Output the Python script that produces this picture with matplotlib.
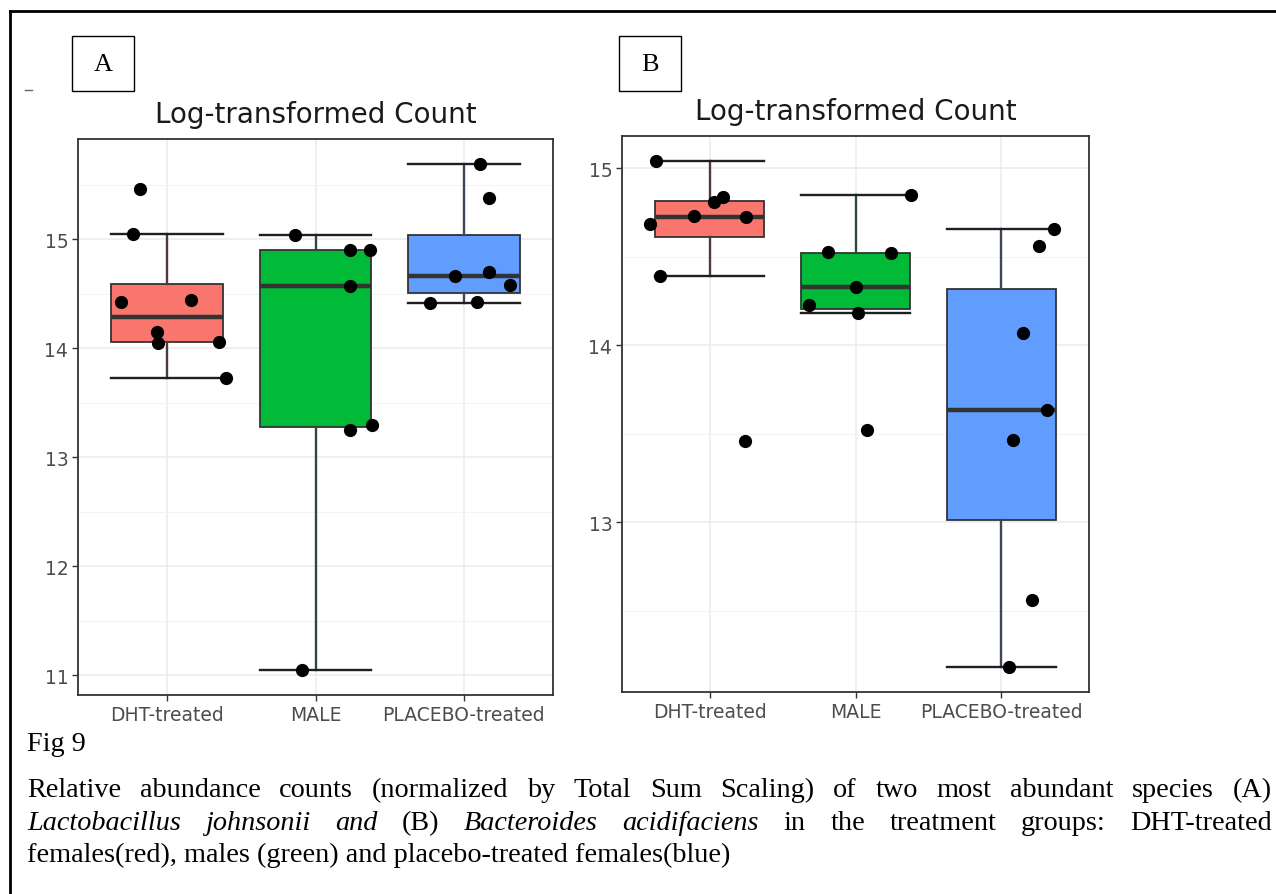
import matplotlib
matplotlib.use('Agg')
import matplotlib.pyplot as plt
import numpy as np
from matplotlib.ticker import MultipleLocator, FormatStrFormatter
from matplotlib.patches import Rectangle
from matplotlib.lines import Line2D

W, H = 1276, 895

groups = ['DHT-treated', 'MALE', 'PLACEBO-treated']
fills = ['#F8766D', '#00BA38', '#619CFF']
whisk_cols = ['#4d3a3a', '#2f4a36', '#3d4658']

# (A) Lactobacillus johnsonii, log counts per animal
dht_a = [15.46, 15.05, 14.43, 14.44, 14.15, 14.05, 14.06, 13.73]
male_a = [15.04, 14.90, 14.90, 14.57, 13.25, 13.30, 11.05]
plac_a = [15.69, 15.38, 14.66, 14.70, 14.58, 14.42, 14.43]
# horizontal jitter of each point (category units)
dht_a_jit = [-0.18, -0.23, -0.31, 0.16, -0.07, -0.06, 0.35, 0.40]
male_a_jit = [-0.14, 0.23, 0.37, 0.23, 0.23, 0.38, -0.09]
plac_a_jit = [0.11, 0.17, -0.06, 0.17, 0.31, -0.23, 0.085]

# (B) Bacteroides acidifaciens
dht_b = [15.04, 14.84, 14.81, 14.73, 14.725, 14.686, 14.39, 13.46]
male_b = [14.847, 14.526, 14.52, 14.33, 14.23, 14.18, 13.52]
plac_b = [14.657, 14.563, 14.07, 13.634, 13.467, 12.56, 12.184]
dht_b_jit = [-0.365, 0.09, 0.03, -0.11, 0.25, -0.41, -0.34, 0.24]
male_b_jit = [0.38, -0.19, 0.24, 0.0, -0.32, 0.02, 0.08]
plac_b_jit = [0.36, 0.26, 0.15, 0.31, 0.08, 0.21, 0.05]

title = 'Log-transformed Count'
cap_font = 'Liberation Serif'


def draw_panel(ax, values, jitter):
	pos = np.arange(1, len(values) + 1)
	bp = ax.boxplot(values, positions=pos, widths=0.75, capwidths=0.75,
		patch_artist=True, showfliers=False, whis=1.5,
		medianprops=dict(color='#333333', lw=3.2, solid_capstyle='butt'),
		boxprops=dict(edgecolor='#333333', lw=1.3),
		capprops=dict(color='#1f1f1f', lw=1.7), zorder=3)
	for i in range(len(values)):
		bp['boxes'][i].set_facecolor(fills[i])
		for wk in bp['whiskers'][2*i:2*i+2]:
			wk.set_color(whisk_cols[i])
			wk.set_linewidth(1.7)
	for i in range(len(values)):
		ax.plot(pos[i] + np.array(jitter[i]), values[i], 'o', color='black',
			ms=8.5, ls='none', zorder=5)

	allv = np.concatenate(values)
	lo, hi = allv.min(), allv.max()
	pad = 0.05 * (hi - lo)
	ax.set_ylim(lo - pad, hi + pad)
	ax.set_xlim(0.4, len(values) + 0.6)
	ax.set_xticks(pos)
	ax.set_xticklabels(groups)
	ax.yaxis.set_major_locator(MultipleLocator(1))
	ax.yaxis.set_minor_locator(MultipleLocator(0.5))
	ax.yaxis.set_major_formatter(FormatStrFormatter('%d'))
	ax.set_axisbelow(True)
	ax.grid(which='major', color='#EBEBEB', lw=1.1)
	ax.grid(which='minor', axis='y', color='#F3F3F3', lw=0.7)
	ax.tick_params(which='major', length=4, width=1, color='#333333',
		labelcolor='#4D4D4D', labelsize=13.5, pad=3)
	ax.tick_params(which='minor', length=0)
	for s in ax.spines.values():
		s.set_color('#333333')
		s.set_linewidth(1.3)


fig = plt.figure(figsize=(W / 100, H / 100), dpi=100)
ax_a = fig.add_axes([78 / W, 1 - 696 / H, 475 / W, 556 / H])
ax_b = fig.add_axes([622 / W, 1 - 693 / H, 467 / W, 556 / H])

draw_panel(ax_a, [dht_a, male_a, plac_a], [dht_a_jit, male_a_jit, plac_a_jit])
draw_panel(ax_b, [dht_b, male_b, plac_b], [dht_b_jit, male_b_jit, plac_b_jit])

fig.text(315.5 / W, 1 - 115 / H, title, fontsize=20, ha='center', va='center', color='#1a1a1a')
fig.text(855.5 / W, 1 - 112 / H, title, fontsize=20, ha='center', va='center', color='#1a1a1a')

# panel letters in boxes
for lab, x0 in [('A', 72), ('B', 619)]:
	fig.add_artist(Rectangle((x0 / W, 1 - 92 / H), 62 / W, 55 / H, transform=fig.transFigure,
		fill=False, edgecolor='black', lw=1))
	fig.text((x0 + 31) / W, 1 - 65 / H, lab, family=cap_font, fontsize=19,
		ha='center', va='center')

# page frame and stray mark
fig.add_artist(Line2D([10 / W, 10 / W], [0, 1 - 12 / H], transform=fig.transFigure, color='black', lw=2))
fig.add_artist(Line2D([10 / W, 1], [1 - 12 / H, 1 - 12 / H], transform=fig.transFigure, color='black', lw=2))
fig.add_artist(Line2D([25 / W, 32 / W], [1 - 91 / H, 1 - 91 / H], transform=fig.transFigure, color='#666666', lw=1))

# caption
fs = 20.3
fig.text(27 / W, 1 - 751 / H, 'Fig 9', family=cap_font, fontsize=fs, va='baseline')

line1 = [(w, 'normal') for w in
	'Relative abundance counts (normalized by Total Sum Scaling) of two most abundant species (A)'.split()]
line2 = [('Lactobacillus', 'italic'), ('johnsonii', 'italic'), ('and', 'italic'), ('(B)', 'normal'),
	('Bacteroides', 'italic'), ('acidifaciens', 'italic'), ('in', 'normal'), ('the', 'normal'),
	('treatment', 'normal'), ('groups:', 'normal'), ('DHT-treated', 'normal')]


def justify(words, y, x0, x1):
	texts = [fig.text(x0 / W, 1 - y / H, w, family=cap_font, style=s, fontsize=fs, va='baseline')
		for w, s in words]
	r = fig.canvas.get_renderer()
	widths = [t.get_window_extent(r).width for t in texts]
	gap = (x1 - x0 - sum(widths)) / (len(texts) - 1)
	x = x0
	for t, w in zip(texts, widths):
		t.set_x(x / W)
		x += w + gap


justify(line1, 797, 27, 1272)
justify(line2, 830, 27, 1272)
fig.text(27 / W, 1 - 862 / H, 'females(red), males (green) and placebo-treated females(blue)',
	family=cap_font, fontsize=fs, va='baseline')

fig.savefig('out.png', dpi=100)
